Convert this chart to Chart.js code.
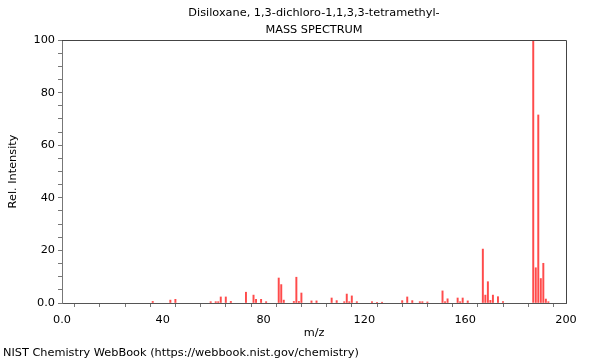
<!DOCTYPE html>
<html>
<head>
<meta charset="utf-8">
<script src="https://cdn.jsdelivr.net/npm/chart.js@4.4.1/dist/chart.umd.min.js"></script>
<style>
  body { margin: 0; background: #fff; }
  #wrap { width: 600px; height: 360px; }
</style>
</head>
<body>
<div id="wrap"><canvas id="ms" width="600" height="360"></canvas></div>
<script>
// m/z values and relative intensities
var mz = [36, 43, 45, 59, 61, 62, 63, 65, 67, 73, 76, 77, 79, 81, 86, 87, 88, 92, 93, 94, 95,
  99, 101, 107, 109, 112, 113, 114, 115, 117, 123, 125, 127, 135, 137, 139, 142, 143, 145,
  151, 152, 153, 157, 158, 159, 161, 167, 168, 169, 170, 171, 173, 175,
  187, 188, 189, 190, 191, 192, 193];
var intensity = [0.6, 1.1, 1.4, 0.5, 0.5, 0.5, 2.3, 2.3, 0.6, 4.1, 3.0, 1.4, 1.4, 0.5, 9.5, 7.0, 1.1, 0.6, 9.8, 0.6, 3.8,
  0.8, 0.8, 1.9, 0.9, 0.5, 3.4, 0.5, 2.7, 0.5, 0.5, 0.3, 0.3, 0.9, 2.3, 0.9, 0.5, 0.5, 0.4,
  4.6, 0.5, 1.6, 1.9, 0.5, 1.9, 0.8, 20.5, 3.0, 8.1, 1.0, 3.0, 2.4, 0.5,
  100, 13.4, 71.5, 9.3, 15.1, 1.5, 0.5];
var xTickLabels = [0, 40, 80, 120, 160, 200];
var yTickLabels = [0, 20, 40, 60, 80, 100];
var titleLines = ["Disiloxane, 1,3-dichloro-1,1,3,3-tetramethyl-", "MASS SPECTRUM"];

var points = mz.map(function (m, i) { return { x: m, y: intensity[i] }; });

var font = { family: "DejaVu Sans", size: 11.3 };
var axisColor = "#777";

// title centred over the plot, frame on top and right, footer text
var framePlugin = {
  id: 'frame',
  afterDraw: function (chart) {
    var c = chart.ctx, a = chart.chartArea;
    c.save();
    c.strokeStyle = "#444";
    c.lineWidth = 1;
    c.beginPath();
    c.moveTo(a.left, a.top + 0.5);
    c.lineTo(a.right + 0.5, a.top + 0.5);
    c.lineTo(a.right + 0.5, a.bottom);
    c.stroke();
    c.fillStyle = "#000";
    c.font = "11.3px 'DejaVu Sans'";
    c.textBaseline = "middle";
    c.textAlign = "center";
    var cx = (a.left + a.right) / 2;
    c.fillText(titleLines[0], cx, 13);
    c.fillText(titleLines[1], cx, 30);
    c.textAlign = "left";
    c.fillText("NIST Chemistry WebBook (https://webbook.nist.gov/chemistry)", 3, 353);
    c.restore();
  }
};

new Chart(document.getElementById("ms").getContext("2d"), {
  type: 'bar',
  data: {
    datasets: [{
      data: points,
      backgroundColor: "rgba(255,30,30,0.8)",
      barThickness: 1.3,
      borderWidth: 0
    }]
  },
  options: {
    responsive: false,
    animation: false,
    layout: { padding: { left: 0, right: 34, top: 40, bottom: 19 } },
    plugins: {
      legend: { display: false },
      tooltip: { enabled: false },
      title: { display: false }
    },
    scales: {
      x: {
        type: 'linear',
        min: 0,
        max: 200,
        offset: false,
        afterFit: function (s) { s.height = 38; },
        ticks: {
          stepSize: 10,
          autoSkip: false,
          maxRotation: 0,
          color: "#000",
          font: font,
          padding: 6,
          callback: function (v) {
            if (xTickLabels.indexOf(v) < 0) return '';
            return v === 0 ? '0.0' : String(v);
          }
        },
        grid: {
          drawOnChartArea: false,
          tickLength: 4,
          tickColor: axisColor
        },
        border: { color: "#555" },
        title: { display: true, text: "m/z", color: "#000", font: font, padding: { top: 0, bottom: 1 } }
      },
      y: {
        min: 0,
        max: 100,
        afterFit: function (s) { s.width = 62; },
        ticks: {
          stepSize: 5,
          autoSkip: false,
          color: "#000",
          font: font,
          padding: 3,
          callback: function (v) {
            if (yTickLabels.indexOf(v) < 0) return '';
            return v === 0 ? '0.0' : String(v);
          }
        },
        grid: {
          drawOnChartArea: false,
          tickLength: 4,
          tickColor: axisColor
        },
        border: { color: axisColor },
        title: { display: true, text: "Rel. Intensity", color: "#000", font: font, padding: { top: 6, bottom: 4 } }
      }
    }
  },
  plugins: [framePlugin]
});
</script>
</body>
</html>
